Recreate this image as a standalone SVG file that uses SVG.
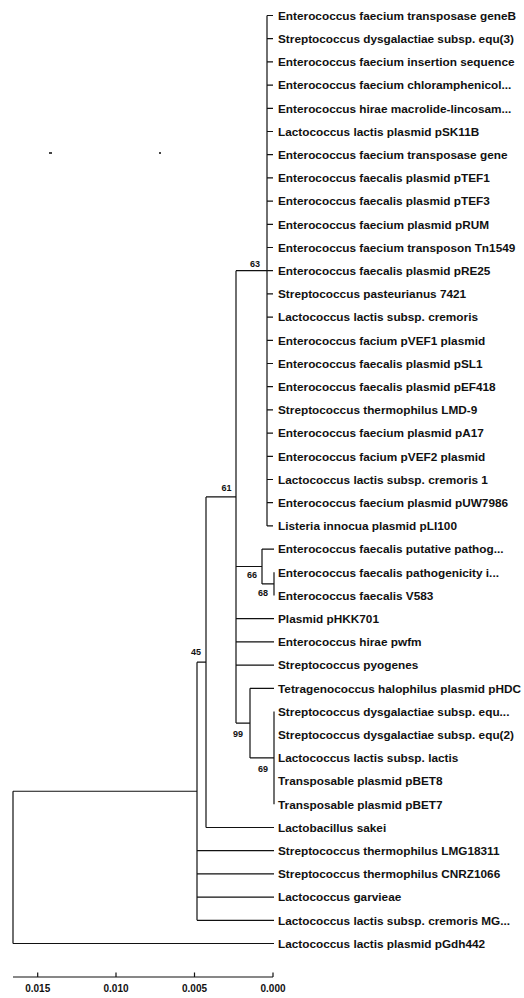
<svg xmlns="http://www.w3.org/2000/svg" width="524" height="998" viewBox="0 0 524 998">
<style>
.lf{font-family:"Liberation Sans",Arial,sans-serif;font-weight:bold;font-size:11.8px;fill:#111}
.bs{font-family:"Liberation Sans",Arial,sans-serif;font-weight:bold;font-size:9px;fill:#111;text-anchor:middle}
.sc{font-family:"Liberation Sans",Arial,sans-serif;font-weight:bold;font-size:10px;fill:#111;text-anchor:middle}
.br{fill:none;stroke:#111;stroke-width:1.2}
</style>
<rect width="524" height="998" fill="#fff"/>
<rect x="49" y="152" width="3" height="2" fill="#444"/>
<rect x="159" y="152" width="2" height="2" fill="#444"/>
<g id="connectors" class="br">
<path d="M13 791.25V943.5M13 791.25H197M13 943.5H274"/>
<path d="M197 662.2V920.3M197 662.2H206M197 850.7H274M197 873.9H274M197 897.1H274M197 920.3H274"/>
<path d="M206 496.9V827.5M206 496.9H236M206 827.5H274"/>
<path d="M236 270.7V723.1M236 270.7H267M236 566.5H262M236 618.7H274M236 641.9H274M236 665.1H274M236 723.1H250"/>
<path d="M267 15.5V525.9M267 15.5H273M267 38.7H273M267 61.9H273M267 85.1H273M267 108.3H273M267 131.5H273M267 154.7H273M267 177.9H273M267 201.1H273M267 224.3H273M267 247.5H273M267 270.7H273M267 293.9H273M267 317.1H273M267 340.3H273M267 363.5H273M267 386.7H273M267 409.9H273M267 433.1H273M267 456.3H273M267 479.5H273M267 502.7H273M267 525.9H273"/>
<path d="M262 549.1V583.9M262 549.1H274M262 583.9H274"/>
<path d="M274 572.3V595.5"/>
<path d="M250 688.3V757.9M250 688.3H274M250 757.9H274"/>
<path d="M274 711.5V804.3"/>
</g>
<g id="bootstrap">
<g id="node63"><text class="bs" x="255" y="266.7">63</text></g>
<g id="node61"><text class="bs" x="226.5" y="491.2">61</text></g>
<g id="node66"><text class="bs" x="252" y="578">66</text></g>
<g id="node68"><text class="bs" x="263" y="596">68</text></g>
<g id="node45"><text class="bs" x="196" y="655">45</text></g>
<g id="node99"><text class="bs" x="238" y="736.5">99</text></g>
<g id="node69"><text class="bs" x="263" y="771.5">69</text></g>
</g>
<g id="leaves">
<g id="leaf01"><text class="lf" x="278" y="19.7">Enterococcus faecium transposase geneB</text></g>
<g id="leaf02"><text class="lf" x="278" y="42.9">Streptococcus dysgalactiae subsp. equ(3)</text></g>
<g id="leaf03"><text class="lf" x="278" y="66.1">Enterococcus faecium insertion sequence</text></g>
<g id="leaf04"><text class="lf" x="278" y="89.3">Enterococcus faecium chloramphenicol...</text></g>
<g id="leaf05"><text class="lf" x="278" y="112.5">Enterococcus hirae macrolide-lincosam...</text></g>
<g id="leaf06"><text class="lf" x="278" y="135.7">Lactococcus lactis plasmid pSK11B</text></g>
<g id="leaf07"><text class="lf" x="278" y="158.9">Enterococcus faecium transposase gene</text></g>
<g id="leaf08"><text class="lf" x="278" y="182.1">Enterococcus faecalis plasmid pTEF1</text></g>
<g id="leaf09"><text class="lf" x="278" y="205.3">Enterococcus faecalis plasmid pTEF3</text></g>
<g id="leaf10"><text class="lf" x="278" y="228.5">Enterococcus faecium plasmid pRUM</text></g>
<g id="leaf11"><text class="lf" x="278" y="251.7">Enterococcus faecium transposon Tn1549</text></g>
<g id="leaf12"><text class="lf" x="278" y="274.9">Enterococcus faecalis plasmid pRE25</text></g>
<g id="leaf13"><text class="lf" x="278" y="298.1">Streptococcus pasteurianus 7421</text></g>
<g id="leaf14"><text class="lf" x="278" y="321.3">Lactococcus lactis subsp. cremoris</text></g>
<g id="leaf15"><text class="lf" x="278" y="344.5">Enterococcus facium pVEF1 plasmid</text></g>
<g id="leaf16"><text class="lf" x="278" y="367.7">Enterococcus faecalis plasmid pSL1</text></g>
<g id="leaf17"><text class="lf" x="278" y="390.9">Enterococcus faecalis plasmid pEF418</text></g>
<g id="leaf18"><text class="lf" x="278" y="414.1">Streptococcus thermophilus LMD-9</text></g>
<g id="leaf19"><text class="lf" x="278" y="437.3">Enterococcus faecium plasmid pA17</text></g>
<g id="leaf20"><text class="lf" x="278" y="460.5">Enterococcus facium pVEF2 plasmid</text></g>
<g id="leaf21"><text class="lf" x="278" y="483.7">Lactococcus lactis subsp. cremoris 1</text></g>
<g id="leaf22"><text class="lf" x="278" y="506.9">Enterococcus faecium plasmid pUW7986</text></g>
<g id="leaf23"><text class="lf" x="278" y="530.1">Listeria innocua plasmid pLI100</text></g>
<g id="leaf24"><text class="lf" x="278" y="553.3">Enterococcus faecalis putative pathog...</text></g>
<g id="leaf25"><text class="lf" x="278" y="576.5">Enterococcus faecalis pathogenicity i...</text></g>
<g id="leaf26"><text class="lf" x="278" y="599.7">Enterococcus faecalis V583</text></g>
<g id="leaf27"><text class="lf" x="278" y="622.9">Plasmid pHKK701</text></g>
<g id="leaf28"><text class="lf" x="278" y="646.1">Enterococcus hirae pwfm</text></g>
<g id="leaf29"><text class="lf" x="278" y="669.3">Streptococcus pyogenes</text></g>
<g id="leaf30"><text class="lf" x="278" y="692.5">Tetragenococcus halophilus plasmid pHDC</text></g>
<g id="leaf31"><text class="lf" x="278" y="715.7">Streptococcus dysgalactiae subsp. equ...</text></g>
<g id="leaf32"><text class="lf" x="278" y="738.9">Streptococcus dysgalactiae subsp. equ(2)</text></g>
<g id="leaf33"><text class="lf" x="278" y="762.1">Lactococcus lactis subsp. lactis</text></g>
<g id="leaf34"><text class="lf" x="278" y="785.3">Transposable plasmid pBET8</text></g>
<g id="leaf35"><text class="lf" x="278" y="808.5">Transposable plasmid pBET7</text></g>
<g id="leaf36"><text class="lf" x="278" y="831.7">Lactobacillus sakei</text></g>
<g id="leaf37"><text class="lf" x="278" y="854.9">Streptococcus thermophilus LMG18311</text></g>
<g id="leaf38"><text class="lf" x="278" y="878.1">Streptococcus thermophilus CNRZ1066</text></g>
<g id="leaf39"><text class="lf" x="278" y="901.3">Lactococcus garvieae</text></g>
<g id="leaf40"><text class="lf" x="278" y="924.5">Lactococcus lactis subsp. cremoris MG...</text></g>
<g id="leaf41"><text class="lf" x="278" y="947.7">Lactococcus lactis plasmid pGdh442</text></g>
</g>
<g id="scale-bar">
<path class="br" d="M13 977H273M37.7 972.5V977M116 972.5V977M194.5 972.5V977M273 972.5V977"/>
<text class="sc" x="37.7" y="992">0.015</text>
<text class="sc" x="116" y="992">0.010</text>
<text class="sc" x="194.5" y="992">0.005</text>
<text class="sc" x="273" y="992">0.000</text>
</g>
</svg>
